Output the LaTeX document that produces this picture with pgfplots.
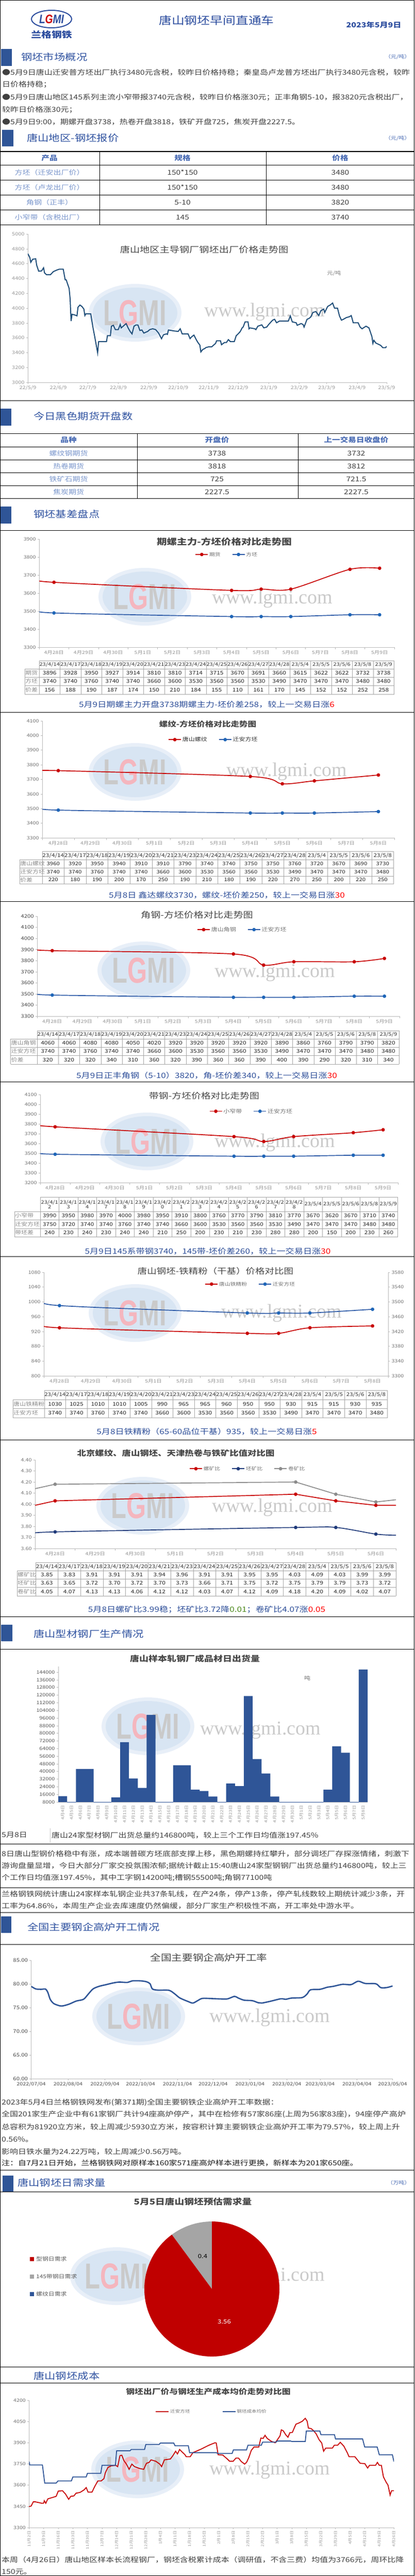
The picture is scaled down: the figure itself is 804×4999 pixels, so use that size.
\documentclass[border=0pt]{standalone}
\usepackage{fontspec}
\setmainfont{Noto Sans CJK SC}[FakeStretch=1.2]
\newfontfamily\wmsans{Liberation Sans}
\newfontfamily\wmserif{Liberation Serif}
\usepackage{graphicx}
\usepackage{pgfplots}
\pgfplotsset{compat=1.18}

\definecolor{navy}{HTML}{2B4C9E}
\definecolor{secblue}{HTML}{2F52A0}
\definecolor{cbar}{HTML}{2F5597}
\definecolor{thead}{HTML}{4A6CB4}
\definecolor{tfirst}{HTML}{7A96CC}
\definecolor{body}{HTML}{404040}
\definecolor{sumblue}{HTML}{2E4F99}
\definecolor{cred}{HTML}{C80000}
\definecolor{cblue}{HTML}{2A58A6}
\definecolor{cblm}{HTML}{1F66B8}
\definecolor{cline1}{HTML}{1F4E79}
\definecolor{cgray}{HTML}{8C8C8C}
\definecolor{cnavy}{HTML}{1F3A7A}
\definecolor{tgrid}{HTML}{A6A6A6}
\definecolor{wmblue}{HTML}{D8E5F3}
\definecolor{wmgray}{HTML}{CACACA}
\definecolor{wmpink}{HTML}{F4B6BE}
\definecolor{pgray}{HTML}{A5A5A5}
\definecolor{pred}{HTML}{C00000}
\definecolor{cgreen}{HTML}{4E8A1E}

\newcommand\fs[1]{\fontsize{#1}{#1}\selectfont}
\newcommand\secbar[4]{\fill[cbar] (#1,-#2) rectangle (#3,-#4);}
\newcommand\sectitle[3]{\node[anchor=west,inner sep=0pt,font=\fs{17.8},text=secblue] at (#1,-#2) {#3};}
\newcommand\bline[3]{\node[anchor=west,inner sep=0pt,font=\fs{13.3},text=body] at (#1,-#2) {#3};}
\newcommand\summ[3]{\node[inner sep=0pt,font=\fs{14.3},text=sumblue] at (#1,-#2) {#3};}
\newcommand\ctitle[5]{\node[inner sep=0pt,font=\fs{#3}#4,text=black!72] at (#1,-#2) {#5};}
\newcommand\hl[1]{\draw[black,line width=1pt] (0,-#1) -- (804,-#1);}
\newcommand\wm[4]{%
  \fill[wmblue!60!white] (#1,-#2) ellipse (90pt and 56pt);
  \fill[wmblue] (#1,-#2) ellipse (82pt and 49pt);
  \node[inner sep=0pt] at (#1,-#2) {\scalebox{0.7}[1]{\wmsans\bfseries\fs{70}{\color{wmgray}L}{\color{wmpink}G}{\color{wmgray}MI}}};
  \node[inner sep=0pt,font=\wmserif\fs{38},text=wmgray] at (#3,-#4) {www.lgmi.com};}
% table helpers
\newcommand\trow[5]{\foreach \v [count=\i from 0] in {#5} {\node[inner sep=0pt,align=center,font=#4] at ({#1+#2*(\i+0.5)},{-#3}) {\v};}}
\newcommand\rlab[3]{\node[anchor=west,inner sep=0pt,font=\fs{10},text=black!45] at (#1,-#2) {#3};}
\newcommand\tgrid[8]{%
  \pgfmathsetmacro\xe{#2+#3*#4}
  \draw[tgrid,line width=0.8pt] (#2,-#5) -- (\xe,-#5);
  \draw[tgrid,line width=0.8pt] (#1,-#6) -- (\xe,-#6);
  \foreach \yy in {#7} {\draw[tgrid,line width=0.8pt] (#1,-\yy) -- (\xe,-\yy);}
  \draw[tgrid,line width=0.8pt] (#1,-#8) -- (\xe,-#8);
  \draw[tgrid,line width=0.8pt] (#1,-#6) -- (#1,-#8);
  \foreach \k in {0,...,#4} {\draw[tgrid,line width=0.8pt] ({#2+#3*\k},-#5) -- ({#2+#3*\k},-#8);}}

\pgfplotsset{
  base/.style={scale only axis, anchor=south west, axis lines*=left,
    axis line style={-,draw=gray!55,line width=0.7pt},
    tick align=outside, major tick length=3pt, minor tick length=4pt,
    tick style={draw=gray!55,line width=0.6pt},
    y tick label style={font=\fs{8.9},text=black!55},
    x tick label style={font=\fs{8.7},text=black!42},
    scaled ticks=false,
    /pgf/number format/assume math mode=true,
    /pgf/number format/fixed,
    /pgf/number format/1000 sep={},
    legend style={draw=none,fill=none,font=\fs{9},text=black!55,legend columns=-1,anchor=center,
      /tikz/every even column/.append style={column sep=20pt}},
    legend cell align=left},
  rl/.style={cred,line width=1.7pt,smooth,mark=*,mark size=2.5pt,mark options={solid,fill=cred,draw=cred}},
  bl/.style={cblue,line width=1.7pt,smooth,mark=*,mark size=2.5pt,mark options={solid,fill=cblm,draw=cblm}},
  legend image code/.code={\draw[mark repeat=2,mark phase=2,#1] plot coordinates {(0pt,0pt) (12pt,0pt) (24pt,0pt)};}
}

\begin{document}
\begin{tikzpicture}[x=1pt,y=1pt]
\useasboundingbox (0,0) rectangle (804,-4999);
\fill[white] (0,0) rectangle (804,-4999);

% ---------------- header
\draw[navy,line width=2pt] (100,-37) ellipse (39pt and 17pt);
\node[inner sep=0pt] at (100,-37) {\scalebox{0.8}[1]{\wmsans\bfseries\itshape\fs{24}{\color{navy}L}{\color{red!80!black}G}{\color{navy}MI}}};
\node[inner sep=0pt,font=\fs{16.5}\bfseries,text=navy] at (100,-67) {兰格钢铁};
\node[inner sep=0pt,font=\fs{20.7},text=navy] at (420,-40) {唐山钢坯早间直通车};
\node[inner sep=0pt,font=\fs{13.4}\bfseries,text=navy] at (725,-48) {2023年5月9日};

% ---------------- market overview
\secbar{2}{95}{23}{128}
\sectitle{41}{111}{钢坯市场概况}
\node[anchor=east,inner sep=0pt,font=\fs{9.3},text=thead] at (796,-110) {（元/吨）};
\bline{4}{141}{●5月9日唐山迁安普方坯出厂执行3480元含税，较昨日价格持稳；秦皇岛卢龙普方坯出厂执行3480元含税，较昨}
\bline{4}{164}{日价格持稳；}
\bline{4}{189}{●5月9日唐山地区145系列主流小窄带报3740元含税，较昨日价格涨30元；正丰角钢5-10，报3820元含税出厂，}
\bline{4}{213}{较昨日价格涨30元；}
\bline{4}{237}{●5月9日9:00，期螺开盘3738，热卷开盘3818，铁矿开盘725，焦炭开盘2227.5。}

% ---------------- price table
\secbar{4}{252}{26}{284}
\sectitle{52}{268}{唐山地区-钢坯报价}
\node[anchor=east,inner sep=0pt,font=\fs{9.3},text=thead] at (796,-268) {（元/吨）};
\foreach \yy in {294,320,349,378,407,436} {\hl{\yy}}
\draw[black,line width=1pt] (193,-294) -- (193,-436) (516,-294) -- (516,-436);
\node[inner sep=0pt,font=\fs{13}\bfseries,text=thead] at (96,-307) {产品};
\node[inner sep=0pt,font=\fs{13}\bfseries,text=thead] at (354,-307) {规格};
\node[inner sep=0pt,font=\fs{13}\bfseries,text=thead] at (660,-307) {价格};
\foreach \a/\b/\c/\yy in {方坯（迁安出厂价）/150*150/3480/334.5, 方坯（卢龙出厂价）/150*150/3480/363.5, 角钢（正丰）/5-10/3820/392.5, 小窄带（含税出厂）/145/3740/421.5} {
  \node[inner sep=0pt,font=\fs{12.5},text=tfirst] at (96,-\yy) {\a};
  \node[inner sep=0pt,font=\fs{13},text=body] at (354,-\yy) {\b};
  \node[inner sep=0pt,font=\fs{13},text=body] at (660,-\yy) {\c};}

% ---------------- chart 1
\wm{262}{607}{513}{605}
\ctitle{396}{484}{16}{}{唐山地区主导钢厂钢坯出厂价格走势图}
\node[inner sep=0pt,font=\fs{9.5},text=black!50] at (648,-530) {元/吨};
\begin{axis}[base, at={(54pt,-742pt)}, width=696pt, height=288pt,
  xmin=0, xmax=365, ymin=3000, ymax=5000, ytick={3000,3200,...,5000},
  xtick={0,31,61,92,123,153,184,214,245,276,304,335,365},
  xticklabels={22/5/9,22/6/9,22/7/9,22/8/9,22/9/9,22/10/9,22/11/9,22/12/9,23/1/9,23/2/9,23/3/9,23/4/9,23/5/9},
  y tick label style={font=\fs{9.1},text=black!40}, x tick label style={font=\fs{9.1},text=black!40}]
\addplot[cline1,line width=2pt] coordinates {(0,4734) (2,4683) (3,4618) (5,4660) (8,4665) (9,4579) (11,4498) (14,4502) (16,4544) (17,4475) (19,4451) (23,4451) (26,4493) (30,4516) (32,4525) (36,4525) (38,4382) (39,4382) (42,4266) (43,4127) (44,3826) (45,3918) (48,3907) (50,3896) (51,4012) (53,4042) (55,4023) (57,3988) (58,3900) (59,3923) (64,3923) (66,3757) (68,3618) (71,3398) (72,3549) (75,3549) (80,3549) (81,3630) (84,3630) (85,3757) (87,3769) (89,3711) (92,3711) (94,3780) (95,3734) (98,3769) (100,3792) (102,3734) (104,3687) (106,3653) (108,3757) (110,3773) (112,3773) (114,3699) (116,3706) (118,3664) (122,3687) (124,3711) (127,3722) (130,3711) (133,3664) (136,3588) (138,3641) (141,3653) (142,3646) (143,3706) (149,3692) (153,3687) (155,3722) (157,3653) (163,3653) (165,3590) (167,3618) (169,3637) (171,3583) (173,3537) (175,3502) (176,3410) (178,3444) (180,3456) (181,3468) (184,3479) (187,3479) (189,3502) (191,3525) (192,3560) (196,3560) (197,3507) (200,3537) (202,3537) (204,3576) (206,3549) (210,3549) (212,3630) (213,3641) (216,3683) (218,3734) (219,3745) (221,3815) (224,3815) (225,3722) (226,3734) (231,3722) (232,3711) (234,3757) (238,3775) (240,3734) (243,3745) (245,3780) (249,3838) (251,3850) (253,3803) (256,3826) (265,3826) (267,3896) (269,3815) (273,3803) (274,3769) (278,3792) (280,3780) (281,3745) (284,3850) (286,3861) (288,3884) (290,3942) (293,3954) (296,3900) (298,3965) (301,3988) (302,3942) (305,4023) (308,4046) (310,4069) (312,4000) (315,4000) (317,3896) (319,3838) (321,3850) (324,3873) (327,3884) (329,3900) (331,3803) (336,3803) (338,3745) (340,3722) (344,3757) (347,3734) (350,3618) (351,3525) (352,3567) (354,3530) (359,3498) (361,3468) (364,3468) (365,3486)};
\end{axis}
\hl{777}

% ---------------- futures table
\secbar{0}{793}{22}{826}
\sectitle{65}{808}{今日黑色期货开盘数}
\foreach \yy in {841,867,892,917,942,967} {\hl{\yy}}
\draw[black,line width=1pt] (266,-841) -- (266,-967) (578,-841) -- (578,-967);
\node[inner sep=0pt,font=\fs{13}\bfseries,text=thead] at (133,-854) {品种};
\node[inner sep=0pt,font=\fs{13}\bfseries,text=thead] at (421,-854) {开盘价};
\node[inner sep=0pt,font=\fs{13}\bfseries,text=thead] at (691,-854) {上一交易日收盘价};
\foreach \a/\b/\c/\yy in {螺纹钢期货/3738/3732/879.5, 热卷期货/3818/3812/904.5, 铁矿石期货/725/721.5/929.5, 焦炭期货/2227.5/2227.5/954.5} {
  \node[inner sep=0pt,font=\fs{12.5},text=tfirst] at (133,-\yy) {\a};
  \node[inner sep=0pt,font=\fs{13},text=body] at (421,-\yy) {\b};
  \node[inner sep=0pt,font=\fs{13},text=body] at (691,-\yy) {\c};}

\secbar{0}{983}{22}{1016}
\sectitle{65}{998}{钢坯基差盘点}
\hl{1029}

% ---------------- chart 2
\wm{281}{1158}{528}{1162}
\ctitle{435}{1051}{16.3}{\bfseries}{期螺主力-方坯价格对比走势图}
\begin{axis}[base, at={(76pt,-1256pt)}, width=689pt, height=210pt,
  xmin=-0.5, xmax=11.5, ymin=3300, ymax=3900, ytick={3300,3400,...,3900},
  xtick={0,...,11}, xticklabels={4月28日,4月29日,4月30日,5月1日,5月2日,5月3日,5月4日,5月5日,5月6日,5月7日,5月8日,5月9日},
  major x tick style={draw=none}, minor xtick={-0.5,0.5,...,11.5},
  legend style={at={(0.528,0.857)}}]
\addlegendimage{rl}\addlegendentry{期货}
\addlegendimage{bl}\addlegendentry{方坯}
\addplot[rl,mark indices={2,3,4,5,6,7},forget plot] coordinates {(-0.5,3676) (0,3660) (6,3615) (7,3622) (8,3622) (10,3732) (11,3738)};
\addplot[bl,mark indices={2,3,4,5,6,7},forget plot] coordinates {(-0.5,3508) (0,3490) (6,3470) (7,3470) (8,3470) (10,3480) (11,3480)};
\end{axis}
\tgrid{48}{76}{40.5}{17}{1282}{1298}{1314,1330}{1347}
\trow{76}{40.5}{1290}{\fs{9.2}\color{black!80}}{23/4/14,23/4/17,23/4/18,23/4/19,23/4/20,23/4/21,23/4/23,23/4/24,23/4/25,23/4/26,23/4/27,23/4/28,23/5/4,23/5/5,23/5/6,23/5/8,23/5/9}
\trow{76}{40.5}{1306}{\fs{10}\color{black!85}}{3896,3928,3950,3927,3914,3810,3810,3714,3715,3670,3691,3660,3615,3622,3622,3732,3738}
\trow{76}{40.5}{1322}{\fs{10}\color{black!85}}{3740,3740,3760,3740,3740,3660,3600,3530,3560,3560,3530,3490,3470,3470,3470,3480,3480}
\trow{76}{40.5}{1338.5}{\fs{10}\color{black!85}}{156,188,190,187,174,150,210,184,155,110,161,170,145,152,152,252,258}
\rlab{49}{1306}{期货}\rlab{49}{1322}{方坯}\rlab{49}{1338.5}{价差}
\summ{401}{1367}{5月9日期螺主力开盘3738期螺主力-坯价差258，较上一交易日涨\textcolor{red}{6}}
\hl{1382}

% ---------------- chart 3
\wm{262}{1498}{556}{1497}
\ctitle{403}{1405}{13.8}{\bfseries}{螺纹-方坯价格对比走势图}
\begin{axis}[base, at={(82pt,-1626pt)}, width=683pt, height=227pt,
  xmin=-0.5, xmax=10.5, ymin=3300, ymax=4100, ytick={3300,3400,...,4100},
  xtick={0,...,10}, xticklabels={4月28日,4月29日,4月30日,5月1日,5月2日,5月3日,5月4日,5月5日,5月6日,5月7日,5月8日},
  major x tick style={draw=none}, minor xtick={-0.5,0.5,...,10.5},
  legend style={at={(0.486,0.84)},font=\fs{10},text=black!80}]
\addlegendimage{rl}\addlegendentry{唐山螺纹}
\addlegendimage{bl}\addlegendentry{迁安方坯}
\addplot[rl,mark indices={2,3,4,5,6},forget plot] coordinates {(-0.5,3757) (0,3760) (6,3720) (7,3670) (8,3690) (10,3730)};
\addplot[bl,mark indices={2,3,4,5,6},forget plot] coordinates {(-0.5,3507) (0,3490) (6,3470) (7,3470) (8,3470) (10,3480)};
\end{axis}
\tgrid{38}{82}{42.6}{16}{1652}{1668}{1684,1700}{1715}
\trow{82}{42.6}{1660}{\fs{9.8}\color{black!80}}{23/4/14,23/4/17,23/4/18,23/4/19,23/4/20,23/4/21,23/4/23,23/4/24,23/4/25,23/4/26,23/4/27,23/4/28,23/5/4,23/5/5,23/5/6,23/5/8}
\trow{82}{42.6}{1676}{\fs{9.5}\color{black!85}}{3960,3920,3950,3940,3910,3910,3790,3740,3740,3750,3750,3760,3720,3670,3690,3730}
\trow{82}{42.6}{1692}{\fs{9.5}\color{black!85}}{3740,3740,3760,3740,3740,3660,3600,3530,3560,3560,3530,3490,3470,3470,3470,3480}
\trow{82}{42.6}{1707.5}{\fs{9.5}\color{black!85}}{220,180,190,200,170,250,190,210,180,190,220,270,250,200,220,250}
\rlab{39}{1676}{唐山螺纹}\rlab{39}{1692}{迁安方坯}\rlab{39}{1707.5}{价差}
\summ{440}{1737}{5月8日 鑫达螺纹3730，螺纹-坯价差250，较上一交易日涨\textcolor{red}{30}}
\hl{1749}

% ---------------- chart 4
\wm{279}{1883}{533}{1887}
\ctitle{382}{1775}{16}{}{角钢-方坯价格对比走势图}
\begin{axis}[base, at={(72pt,-1972pt)}, width=703pt, height=194pt,
  xmin=-0.5, xmax=11.5, ymin=3300, ymax=4200, ytick={3300,3400,...,4200},
  xtick={0,...,11}, xticklabels={4月28日,4月29日,4月30日,5月1日,5月2日,5月3日,5月4日,5月5日,5月6日,5月7日,5月8日,5月9日},
  major x tick style={draw=none}, minor xtick={-0.5,0.5,...,11.5},
  y tick label style={font=\fs{9.3},text=black!75},
  legend style={at={(0.566,0.866)},font=\fs{10}}]
\addlegendimage{rl}\addlegendentry{唐山角钢}
\addlegendimage{bl}\addlegendentry{迁安方坯}
\addplot[rl,mark indices={2,3,4,5,6,7},forget plot] coordinates {(-0.5,3905) (0,3890) (6,3860) (7,3760) (8,3790) (10,3790) (11,3820)};
\addplot[bl,mark indices={2,3,4,5,6,7},forget plot] coordinates {(-0.5,3510) (0,3490) (6,3470) (7,3470) (8,3470) (10,3480) (11,3480)};
\end{axis}
\tgrid{20.5}{72}{41.3}{17}{2000}{2016}{2032,2048}{2065}
\trow{72}{41.3}{2008}{\fs{9.4}\color{black!80}}{23/4/14,23/4/17,23/4/18,23/4/19,23/4/20,23/4/21,23/4/23,23/4/24,23/4/25,23/4/26,23/4/27,23/4/28,23/5/4,23/5/5,23/5/6,23/5/8,23/5/9}
\trow{72}{41.3}{2024}{\fs{10}\color{black!85}}{4060,4060,4080,4080,4050,4020,3920,3920,3920,3920,3920,3890,3860,3760,3790,3790,3820}
\trow{72}{41.3}{2040}{\fs{10}\color{black!85}}{3740,3740,3760,3740,3740,3660,3600,3530,3560,3560,3530,3490,3470,3470,3470,3480,3480}
\trow{72}{41.3}{2056.5}{\fs{10}\color{black!85}}{320,320,320,340,310,360,320,390,360,360,390,400,390,290,320,310,340}
\rlab{21.5}{2024}{唐山角钢}\rlab{21.5}{2040}{迁安方坯}\rlab{21.5}{2056.5}{价差}
\summ{401}{2087}{5月9日正丰角钢（5-10）3820，角-坯价差340，较上一交易日涨\textcolor{red}{30}}
\hl{2099}

% ---------------- chart 5
\wm{285}{2215}{533}{2217}
\ctitle{396}{2127}{15.7}{}{带钢-方坯价格对比走势图}
\begin{axis}[base, at={(78pt,-2295pt)}, width=694pt, height=171pt,
  xmin=-0.5, xmax=11.5, ymin=3200, ymax=4100, ytick={3200,3300,...,4100},
  xtick={0,...,11}, xticklabels={4月28日,4月29日,4月30日,5月1日,5月2日,5月3日,5月4日,5月5日,5月6日,5月7日,5月8日,5月9日},
  major x tick style={draw=none}, minor xtick={-0.5,0.5,...,11.5},
  legend style={at={(0.59,0.81)},font=\fs{10}}]
\addlegendimage{rl}\addlegendentry{小窄带}
\addlegendimage{bl}\addlegendentry{迁安方坯}
\addplot[rl,mark indices={2,3,4,5,6,7},forget plot] coordinates {(-0.5,3790) (0,3770) (6,3670) (7,3620) (8,3670) (10,3710) (11,3740)};
\addplot[bl,mark indices={2,3,4,5,6,7},forget plot] coordinates {(-0.5,3510) (0,3490) (6,3470) (7,3470) (8,3470) (10,3480) (11,3480)};
\end{axis}
\tgrid{28}{78}{36.5}{19}{2323}{2351}{2367,2384}{2400}
\trow{78}{36.5}{2337}{\fs{9.2}\color{black!80}}{23/4/1\\2,23/4/1\\3,23/4/1\\4,23/4/1\\7,23/4/1\\8,23/4/1\\9,23/4/2\\0,23/4/2\\1,23/4/2\\3,23/4/2\\4,23/4/2\\5,23/4/2\\6,23/4/2\\7,23/4/2\\8,23/5/4,23/5/5,23/5/6,23/5/8,23/5/9}
\trow{78}{36.5}{2359}{\fs{9.8}\color{black!85}}{3990,3950,3980,3970,4000,3980,3950,3910,3800,3760,3770,3790,3810,3770,3670,3620,3670,3710,3740}
\trow{78}{36.5}{2375.5}{\fs{9.8}\color{black!85}}{3750,3720,3740,3740,3760,3740,3740,3660,3600,3530,3560,3560,3530,3490,3470,3470,3470,3480,3480}
\trow{78}{36.5}{2392}{\fs{9.8}\color{black!85}}{240,230,240,230,240,240,210,250,200,230,210,230,280,280,200,150,200,230,260}
\rlab{29}{2359}{小窄带}\rlab{29}{2375.5}{迁安方坯}\rlab{29}{2392}{带坯差}
\summ{403}{2428}{5月9日145系带钢3740，145带-坯价差260，较上一交易日涨\textcolor{red}{30}}
\hl{2438}

% ---------------- chart 6 (dual axis)
\wm{262}{2548}{546}{2548}
\ctitle{418}{2467}{15.4}{}{唐山钢坯-铁精粉（干基）价格对比图}
\begin{axis}[base, at={(85pt,-2670pt)}, width=668pt, height=201pt,
  xmin=-0.5, xmax=10.5, ymin=800, ymax=1080, ytick={800,840,...,1080},
  xtick={0,...,10}, xticklabels={4月28日,4月29日,4月30日,5月1日,5月2日,5月3日,5月4日,5月5日,5月6日,5月7日,5月8日},
  major x tick style={draw=none}, minor xtick={-0.5,0.5,...,10.5}]
\addplot[rl,mark indices={2,3,4,5,6},forget plot] coordinates {(-0.5,940) (0,930) (6,915) (7,915) (8,930) (10,935)};
\end{axis}
\begin{axis}[base, at={(85pt,-2670pt)}, width=668pt, height=201pt,
  axis x line=none, axis y line*=right, xtick=\empty,
  xmin=-0.5, xmax=10.5, ymin=3300, ymax=3580, ytick={3300,3340,...,3580},
  legend style={at={(0.6,0.886)}}]
\addlegendimage{rl}\addlegendentry{唐山铁精粉}
\addlegendimage{bl}\addlegendentry{迁安方坯}
\addplot[bl,mark indices={2,3,4,5,6},forget plot] coordinates {(-0.5,3507) (0,3490) (6,3470) (7,3470) (8,3470) (10,3480)};
\end{axis}
\tgrid{25}{86}{41.6}{16}{2698}{2716}{2733}{2751}
\trow{86}{41.6}{2707}{\fs{9.6}\color{black!80}}{23/4/14,23/4/17,23/4/18,23/4/19,23/4/20,23/4/21,23/4/23,23/4/24,23/4/25,23/4/26,23/4/27,23/4/28,23/5/4,23/5/5,23/5/6,23/5/8}
\trow{86}{41.6}{2724.5}{\fs{10}\color{black!85}}{1030,1025,1010,1010,1005,990,965,965,960,950,950,930,915,915,930,935}
\trow{86}{41.6}{2742}{\fs{10}\color{black!85}}{3740,3740,3760,3740,3740,3660,3600,3530,3560,3560,3530,3490,3470,3470,3470,3480}
\rlab{26}{2724.5}{唐山铁精粉}\rlab{26}{2742}{迁安方坯}
\summ{401}{2778}{5月8日铁精粉（65-60品位干基）935，较上一交易日涨\textcolor{red}{5}}
\hl{2794}

% ---------------- chart 7
\wm{277}{2922}{528}{2925}
\ctitle{341}{2820}{14.5}{\bfseries}{北京螺纹、唐山钢坯、天津热卷与铁矿比值对比图}
\begin{axis}[base, at={(68pt,-3005pt)}, width=700pt, height=172pt,
  xmin=-0.5, xmax=8.5, ymin=3.6, ymax=4.4, ytick={3.6,3.7,3.8,3.9,4.0,4.1,4.2,4.3,4.4},
  yticklabel style={/pgf/number format/fixed,/pgf/number format/fixed zerofill,/pgf/number format/precision=2},
  xtick={0,...,8}, xticklabels={4月28日,4月29日,4月30日,5月1日,5月2日,5月3日,5月4日,5月5日,5月6日},
  major x tick style={draw=none}, minor xtick={-0.5,0.5,...,8.5},
  legend style={at={(0.589,0.9)}}]
\addlegendimage{cred,line width=1.7pt,mark=*,mark size=2.5pt,mark options={fill=cred}}\addlegendentry{螺矿比}
\addlegendimage{cnavy,line width=1.7pt,mark=*,mark size=2.5pt,mark options={fill=cnavy}}\addlegendentry{坯矿比}
\addlegendimage{cgray,line width=1.7pt,mark=*,mark size=2.5pt,mark options={fill=cgray}}\addlegendentry{卷矿比}
\addplot[cgray,line width=1.7pt,mark=*,mark size=2.5pt,mark options={fill=cgray},mark indices={2,3,4,5},forget plot] coordinates {(-0.5,4.14) (0,4.18) (6,4.20) (7,4.09) (8,4.02) (8.5,4.04)};
\addplot[cred,line width=1.7pt,mark=*,mark size=2.5pt,mark options={fill=cred},mark indices={2,3,4,5},forget plot] coordinates {(-0.5,3.99) (0,4.03) (6,4.09) (7,4.03) (8,3.99) (8.5,3.99)};
\addplot[cnavy,line width=1.7pt,smooth,mark=*,mark size=2.5pt,mark options={fill=cnavy},mark indices={2,3,4,5},forget plot] coordinates {(-0.5,3.73) (0,3.75) (6,3.79) (7,3.79) (8,3.73) (8.5,3.72)};
\end{axis}
\tgrid{33}{69}{43.7}{16}{3032}{3048}{3064,3080}{3097}
\trow{69}{43.7}{3040}{\fs{9.8}\color{black!80}}{23/4/14,23/4/17,23/4/18,23/4/19,23/4/20,23/4/21,23/4/23,23/4/24,23/4/25,23/4/26,23/4/27,23/4/28,23/5/4,23/5/5,23/5/6,23/5/8}
\trow{69}{43.7}{3056}{\fs{10}\color{black!85}}{3.85,3.83,3.91,3.91,3.91,3.94,3.96,3.91,3.91,3.95,3.95,4.03,4.09,4.03,3.99,3.99}
\trow{69}{43.7}{3072}{\fs{10}\color{black!85}}{3.63,3.65,3.72,3.70,3.72,3.70,3.73,3.66,3.71,3.75,3.72,3.75,3.79,3.79,3.73,3.72}
\trow{69}{43.7}{3088.5}{\fs{10}\color{black!85}}{4.05,4.07,4.13,4.13,4.06,4.12,4.12,4.03,4.07,4.12,4.09,4.18,4.20,4.09,4.02,4.07}
\rlab{34}{3056}{螺矿比}\rlab{34}{3072}{坯矿比}\rlab{34}{3088.5}{卷矿比}
\summ{401}{3124}{5月8日螺矿比3.99稳；坯矿比3.72降\textcolor{cgreen}{0.01}；卷矿比4.07涨\textcolor{red}{0.05}}
\hl{3137}

% ---------------- section profile mills
\secbar{2}{3153}{24}{3185}
\sectitle{65}{3171}{唐山型材钢厂生产情况}
\hl{3200}

% ---------------- chart 8 bars
\wm{287}{3350}{505}{3357}
\ctitle{378}{3219}{15}{\bfseries}{唐山样本轧钢厂成品材日出货量}
\node[inner sep=0pt,font=\fs{10},text=black!55] at (596,-3257) {吨};
\begin{axis}[base, at={(113pt,-3497pt)}, width=600pt, height=263pt,
  xmin=-0.5, xmax=34.5, ymin=8000, ymax=150000, ytick={8000,16000,...,144000},
  yticklabel style={/pgf/number format/fixed,/pgf/number format/precision=0},
  xtick={0,...,34},
  xticklabels={4月4日,4月5日,4月6日,4月7日,4月8日,4月9日,4月10日,4月11日,4月12日,4月13日,4月14日,4月15日,4月16日,4月17日,4月18日,4月19日,4月20日,4月21日,4月22日,4月23日,4月24日,4月25日,4月26日,4月27日,4月28日,4月29日,4月30日,5月1日,5月2日,5月3日,5月4日,5月5日,5月6日,5月7日,5月8日},
  x tick label style={rotate=90,anchor=east,font=\fs{7.6},text=black!40},
  major x tick style={draw=none},
  y tick label style={font=\fs{9},text=black!65}]
\addplot[ybar,bar width=17.14pt,fill=cbar,draw=none] coordinates {(0,14200) (1,0) (2,42600) (3,42600) (4,0) (5,0) (6,12800) (7,70700) (8,32700) (9,22800) (10,99300) (11,0) (12,0) (13,46600) (14,46600) (15,20950) (16,19500) (17,13800) (18,0) (19,27450) (20,24700) (21,119100) (22,53050) (23,37900) (24,13800) (25,0) (26,0) (27,0) (28,0) (29,0) (30,20950) (31,66350) (32,59700) (33,0) (34,146800)};
\end{axis}
\node[anchor=west,inner sep=0pt,font=\fs{13.3},text=body] at (3,-3561) {5月8日};
\draw[gray!40,line width=0.8pt] (97,-3548) -- (97,-3577);
\bline{100}{3561}{唐山24家型材钢厂出货总量约146800吨，较上三个工作日均值涨197.45\%}
\hl{3578}
\bline{3}{3597}{8日唐山型钢价格稳中有涨，成本端普碳方坯底部支撑上移，黑色期螺持红攀升，部分调坯厂存探涨情绪，刺激下}
\bline{3}{3621}{游询盘量显增，今日大部分厂家交投氛围浓郁;据统计截止15:40唐山24家型钢钢厂出货总量约146800吨，较上三}
\bline{3}{3644}{个工作日均值涨197.45\%，其中工字钢14200吨;槽钢55500吨;角钢77100吨}
\hl{3663}
\bline{3}{3675}{兰格钢铁网统计唐山24家样本轧钢企业共37条轧线，在产24条，停产13条，停产轧线数较上期统计减少3条，开}
\bline{3}{3699}{工率为64.86\%，本周生产企业去库速度仍然偏缓，部分厂家生产积极性不高，开工率处中游水平。}
\hl{3711}

% ---------------- blast furnace
\secbar{2}{3719}{22}{3751}
\sectitle{53}{3740}{全国主要钢企高炉开工情况}
\hl{3773}
\wm{269}{3913}{523}{3915}
\ctitle{405}{3799}{17.2}{}{全国主要钢企高炉开工率}
\begin{axis}[base, at={(60.5pt,-4034pt)}, width=701pt, height=230pt,
  xmin=0, xmax=304, ymin=60, ymax=85, ytick={60,65,...,85},
  yticklabel style={/pgf/number format/fixed,/pgf/number format/fixed zerofill,/pgf/number format/precision=2},
  xtick={0,31,62,92,123,153,184,215,243,274,304},
  xticklabels={2022/07/04,2022/08/04,2022/09/04,2022/10/04,2022/11/04,2022/12/04,2023/01/04,2023/02/04,2023/03/04,2023/04/04,2023/05/04},
  y tick label style={font=\fs{9.5},text=black!70}, x tick label style={font=\fs{9},text=black!70}]
\addplot[cbar,line width=2.6pt,smooth] coordinates {(0,79.49) (4,78.94) (9,78.87) (12,78.94) (14,78.22) (16,76.76) (19,75.86) (24,75.39) (27,75.39) (32,75.75) (38,76.40) (44,76.76) (48,77.85) (52,78.94) (57,79.49) (63,79.85) (69,80.21) (74,80.39) (81,80.32) (85,80.65) (92,80.65) (97,80.46) (100,80.03) (102,78.94) (107,78.69) (116,78.65) (121,77.85) (125,77.05) (132,76.29) (136,75.97) (140,76.47) (144,76.95) (152,76.91) (159,76.84) (165,76.84) (171,77.38) (174,77.05) (179,76.58) (186,76.47) (191,76.04) (194,75.97) (201,76.33) (210,76.87) (214,76.76) (219,77.02) (228,77.13) (232,77.85) (235,78.76) (243,78.87) (249,79.30) (254,79.49) (262,79.92) (269,79.85) (275,80.57) (281,80.10) (290,80.03) (294,79.23) (299,79.23) (304,79.57)};
\end{axis}
\bline{3}{4080}{2023年5月4日兰格钢铁网发布(第371期)全国主要钢铁企业高炉开工率数据：}
\bline{3}{4103}{全国201家生产企业中有61家钢厂共计94座高炉停产，其中在检修有57家86座(上周为56家83座)，94座停产高炉}
\bline{3}{4128}{总容积为81920立方米，较上周减少5930立方米，按容积计算主要钢铁企业高炉开工率为79.57\%，较上周上升}
\bline{3}{4152}{0.56\%。}
\bline{3}{4176}{影响日铁水量为24.22万吨，较上周减少0.56万吨。}
\node[anchor=west,inner sep=0pt,font=\fs{13.3},text=black!90] at (3,-4198) {注：自7月21日开始，兰格钢铁网对原样本160家571座高炉样本进行更换，新样本为201家650座。};
\hl{4211}

% ---------------- demand pie
\secbar{5}{4222}{26}{4253}
\sectitle{34}{4236}{唐山钢坯日需求量}
\node[anchor=east,inner sep=0pt,font=\fs{9.3},text=thead] at (796,-4236) {（万吨）};
\hl{4253}
\wm{226}{4417}{513}{4417}
\ctitle{374}{4273}{15.6}{\bfseries}{5月5日唐山钢坯预估需求量}
\def\pA{3.56}\def\pB{0.4}\def\pC{0}
\pgfmathsetmacro\aB{90+360*\pB/(\pA+\pB+\pC)}
\begin{axis}[at={(280pt,-4573pt)}, anchor=south west, scale only axis, width=262pt, height=262pt,
  xmin=-1, xmax=1, ymin=-1, ymax=1, hide axis, clip=false]
\fill[pgray] (axis cs:0,0) -- (axis cs:0,1) arc[start angle=90, end angle=\aB, radius=131pt] -- cycle;
\fill[pred] (axis cs:0,0) -- (axis cs:{cos(\aB)},{sin(\aB)}) arc[start angle=\aB, end angle=450, radius=131pt] -- cycle;
\end{axis}
\node[inner sep=0pt,font=\fs{11},text=black] at (393,-4379) {0.4};
\node[inner sep=0pt,font=\fs{11},text=white] at (435,-4506) {3.56};
\fill[pred] (58,-4380) rectangle (66,-4388);
\node[anchor=west,inner sep=0pt,font=\fs{9.9},text=black!65] at (70,-4384) {型钢日需求};
\fill[pgray] (58,-4414) rectangle (66,-4422);
\node[anchor=west,inner sep=0pt,font=\fs{9.9},text=black!65] at (70,-4418) {145带钢日需求};
\fill[cbar] (58,-4448) rectangle (66,-4456);
\node[anchor=west,inner sep=0pt,font=\fs{9.9},text=black!65] at (70,-4452) {螺纹日需求};
\hl{4593}

% ---------------- cost chart
\sectitle{65}{4611}{唐山钢坯成本}
\hl{4624}
\wm{267}{4792}{523}{4793}
\ctitle{404}{4641}{14}{\bfseries}{钢坯出厂价与钢坯生产成本均价走势对比图}
\begin{axis}[base, at={(56.4pt,-4905pt)}, width=707.6pt, height=247pt,
  xmin=0, xmax=175, ymin=3300, ymax=4200, ytick={3300,3450,...,4200},
  xtick={0,7,...,175},
  xticklabels={11月2日,11月9日,11月16日,11月23日,11月30日,12月7日,12月14日,12月21日,12月28日,1月4日,1月11日,1月18日,1月25日,2月1日,2月8日,2月15日,2月22日,3月1日,3月8日,3月15日,3月22日,3月29日,4月5日,4月12日,4月19日,4月26日},
  x tick label style={rotate=90,anchor=east,font=\fs{7},text=black!40},
  legend style={at={(0.5,0.91)},font=\fs{8},/tikz/every even column/.append style={column sep=60pt}},
  legend image code/.code={\draw[#1] (0pt,0pt) -- (25pt,0pt);}]
\addplot[cred,line width=1.8pt] coordinates {(0,3449) (1,3452) (2,3482) (3,3482) (5,3476) (6,3472) (7,3473) (7.3,3490) (8,3472) (9,3503) (11,3512) (13,3521) (14,3558) (16,3561) (17.5,3537) (19,3500) (20,3521) (21.5,3524) (22.5,3543) (24.5,3549) (26.4,3567) (27.4,3583) (28.3,3551) (30.2,3551) (31.5,3591) (33,3630) (34.6,3630) (35.9,3646) (36.6,3688) (37.8,3725) (39.4,3737) (41.6,3740) (42.5,3731) (43.6,3809) (44.5,3812) (45.5,3773) (46.7,3749) (48,3712) (49.3,3749) (50.6,3731) (53,3718) (55,3712) (56.3,3755) (57.6,3761) (58.5,3779) (60.8,3769) (62.7,3749) (63.6,3731) (64.9,3779) (67.8,3785) (69,3809) (70.3,3840) (71.2,3821) (72.2,3852) (74.8,3815) (75.4,3801) (77.3,3801) (78.6,3830) (82.4,3854) (86.2,3882) (89.2,3900) (89.8,3898) (90.7,3815) (92.9,3813) (95.1,3785) (96.2,3769) (97.9,3769) (99.2,3791) (100.5,3791) (101.8,3767) (103.4,3749) (104.3,3761) (105.3,3791) (106.6,3846) (107.9,3870) (110.2,3870) (111.2,3933) (112.3,3931) (113.2,3953) (114.2,3931) (116.2,3910) (118.1,3900) (119.3,3925) (120.4,3949) (121,3991) (121.9,3985) (123.2,3955) (124.2,3939) (125.1,3971) (126.3,3973) (127,3997) (128,4031) (129.5,4040) (131.1,4052) (132.5,4073) (133.4,4052) (134,4004) (135.3,4000) (136.5,3985) (137.8,3961) (139.1,3922) (140.4,3898) (141.3,3840) (142.3,3862) (145.5,3862) (146.4,3882) (148,3882) (149.3,3903) (151,3876) (152.7,3828) (153.5,3801) (156.3,3801) (157.5,3779) (158.8,3755) (161.1,3752) (162.4,3721) (163.3,3740) (166.2,3740) (167.1,3761) (168,3740) (169,3740) (170,3658) (171.3,3621) (172.2,3600) (173.2,3530) (173.9,3561) (175,3561)};
\addlegendentry{迁安方坯}
\addplot[cbar,line width=1.8pt] coordinates {(0,3767) (0.3,3743) (6.4,3743) (7.5,3615) (13,3615) (13.9,3630) (20.3,3630) (21,3658) (27.4,3658) (28,3684) (34.4,3684) (35,3740) (41.4,3740) (42,3843) (48.4,3843) (49,3852) (55.4,3852) (56,3888) (62.4,3888) (63,3898) (69.4,3898) (70,3879) (76.4,3879) (77,3830) (89.8,3830) (90.5,3824) (97.4,3824) (98,3849) (104.3,3849) (105,3882) (111.4,3882) (112,3904) (118.5,3904) (119,3912) (125.5,3912) (126,3909) (132.5,3909) (133,3983) (139.5,3983) (140,3957) (146.5,3957) (147,3927) (160,3927) (161,3870) (167,3870) (168,3815) (174.3,3815) (175,3767)};
\addlegendentry{钢坯成本均价}
\end{axis}
\bline{3}{4967}{本周（4月26日）唐山地区样本长流程钢厂，钢坯含税累计成本（调研值，不含三费）均值为3766元，周环比降}
\bline{3}{4991}{150元。}

% outer border
\draw[black,line width=1.2pt] (0.6,-0.6) rectangle (803.4,-4998.4);
\end{tikzpicture}
\end{document}
